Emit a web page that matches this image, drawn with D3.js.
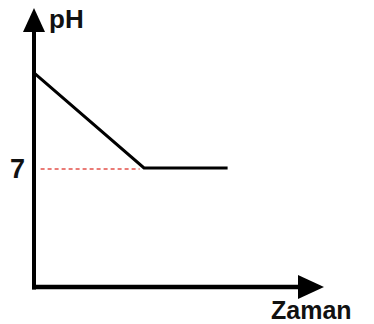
<!DOCTYPE html>
<html>
<head>
<meta charset="utf-8">
<script src="https://cdn.jsdelivr.net/npm/d3@7"></script>
<style>
  html, body { margin: 0; padding: 0; background: #fff; }
  svg { display: block; }
  text { font-family: "Liberation Sans", Arial, sans-serif; font-weight: bold; fill: #111; }
</style>
</head>
<body>
<svg id="chart" width="374" height="324"></svg>
<script>
// pH of the solution over time: falls steadily, then levels off at neutral
const times = [0, 5, 8.8];
const phValues = [12.6, 7, 7];

// the neutral reference level and its tick label
const neutralPh = 7;
const neutralSpan = [0.3, 4.8];
const yTickValues = [7];

const axisLabels = { y: "pH", x: "Zaman" };

const svg = d3.select("#chart");

const x = d3.scaleLinear().domain([0, 12]).range([34, 298]);
const y = d3.scaleLinear().domain([0, 14]).range([287, 49]);

const originX = x(0), originY = y(0);

// y axis tick label only
const yAxis = d3.axisLeft(y)
  .tickValues(yTickValues)
  .tickFormat(d3.format("d"))
  .tickSize(0)
  .tickPadding(8);

const yg = svg.append("g")
  .attr("transform", `translate(${originX - 1},0)`)
  .call(yAxis);
yg.select(".domain").remove();
yg.selectAll(".tick text")
  .attr("font-family", "Liberation Sans, Arial, sans-serif")
  .attr("font-weight", "bold")
  .attr("font-size", 27)
  .attr("fill", "#111")
  .attr("dy", "0.36em");

// dashed guide at neutral pH
svg.append("line")
  .attr("x1", x(neutralSpan[0])).attr("x2", x(neutralSpan[1]))
  .attr("y1", y(neutralPh) + 1).attr("y2", y(neutralPh) + 1)
  .attr("stroke", "#e4504a")
  .attr("stroke-width", 1.6)
  .attr("stroke-dasharray", "4,3");

// pH curve
const pts = times.map((t, i) => [t, phValues[i]]);
svg.append("path")
  .datum(pts)
  .attr("fill", "none")
  .attr("stroke", "#000")
  .attr("stroke-width", 3)
  .attr("stroke-linejoin", "miter")
  .attr("d", d3.line().x(d => x(d[0])).y(d => y(d[1])));

// axis lines with arrowheads
const yTop = 32, xRight = 298;
svg.append("line")
  .attr("x1", originX).attr("x2", originX)
  .attr("y1", originY + 2.5).attr("y2", yTop)
  .attr("stroke", "#000").attr("stroke-width", 4);
svg.append("path")
  .attr("d", `M${originX},8 L${originX - 11},${yTop} L${originX + 11},${yTop} Z`)
  .attr("fill", "#000");

svg.append("line")
  .attr("x1", originX - 2).attr("x2", xRight)
  .attr("y1", originY).attr("y2", originY)
  .attr("stroke", "#000").attr("stroke-width", 4.5);
svg.append("path")
  .attr("d", `M324,${originY} L${xRight},${originY - 12} L${xRight},${originY + 12} Z`)
  .attr("fill", "#000");

// axis titles
svg.append("text")
  .attr("x", 49).attr("y", 28)
  .attr("font-size", 26)
  .text(axisLabels.y);
svg.append("text")
  .attr("x", 271).attr("y", 319)
  .attr("font-size", 25)
  .text(axisLabels.x);
</script>
</body>
</html>
